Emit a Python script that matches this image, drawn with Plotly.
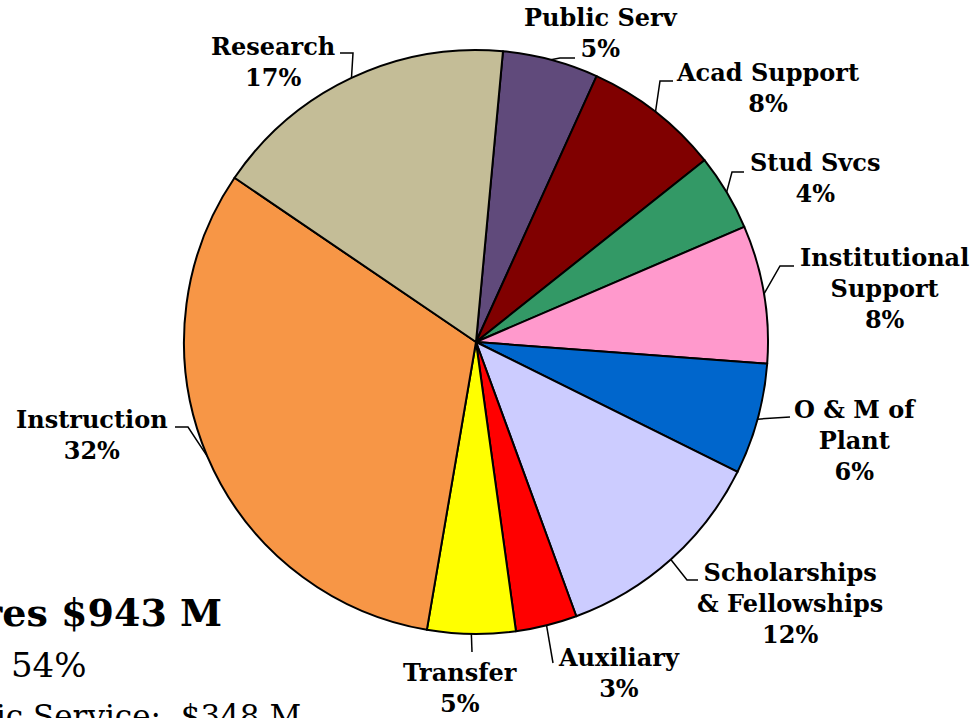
import math
import plotly.graph_objects as go

# ---------------- data ----------------
categories = ["Public Serv", "Acad Support", "Stud Svcs", "Institutional Support",
              "O & M of Plant", "Scholarships & Fellowships", "Auxiliary",
              "Transfer", "Instruction", "Research"]
label_lines = [["Public Serv"], ["Acad Support"], ["Stud Svcs"], ["Institutional", "Support"],
               ["O & M of", "Plant"], ["Scholarships", "& Fellowships"], ["Auxiliary"],
               ["Transfer"], ["Instruction"], ["Research"]]
values_musd = [50, 71, 40, 72, 58, 114, 32, 46, 300, 160]
total_text = "Total Expenditures $943 M"
share_text = "Instruction, Research & Public Service:  54%"
amount_text = "Instruction, Research & Public Service:  $348 M"

# ---------------- styles / layout ----------------
colors = ["#604A7B", "#800000", "#339966", "#FF99CC", "#0066CC",
          "#CCCCFF", "#FF0000", "#FFFF00", "#F79646", "#C4BD97"]
W, H = 976, 718
CX, CY, R = 476, 342, 292
ROTATION = 5.3
# label block centres (px) and leader text-end / elbow points (px)
label_pos = [(601, 32.5), (767, 88), (815, 178), (884, 288.5), (855, 440),
             (790, 603), (619, 672.5), (460, 687.5), (92, 434.5), (273, 62)]
leader_T = [(575, 58), (673, 81), (744, 172), (794, 266), (790, 417),
            (698, 580), (553, 663), (472, 652), (175, 427), (340, 53)]
leader_E = [(560, 58), (660, 81), (732, 172), (780, 266), (790, 417),
            (687, 580), (553, 663), (472, 652), (188, 427), (353, 53)]
LABEL_FONT = dict(family="DejaVu Serif", size=24, color="black")

fig = go.Figure()
fig.add_trace(go.Pie(
    labels=categories, values=values_musd, sort=False, direction="clockwise",
    rotation=ROTATION, textinfo="none", hoverinfo="label+percent",
    marker=dict(colors=colors, line=dict(color="black", width=2)),
    domain=dict(x=[(CX - R) / W, (CX + R) / W], y=[1 - (CY + R) / H, 1 - (CY - R) / H]),
    showlegend=False,
))

total = sum(values_musd)
cum = 0.0
lx, ly = [], []
annotations = []
for i, v in enumerate(values_musd):
    mid = math.radians(ROTATION + (cum + v / 2) / total * 360)
    cum += v
    px, py = CX + R * math.sin(mid), CY - R * math.cos(mid)
    lx += [px, leader_E[i][0], leader_T[i][0], None]
    ly += [py, leader_E[i][1], leader_T[i][1], None]
    pct = round(v / total * 100)
    txt = "<br>".join("<b>%s</b>" % s for s in label_lines[i]) + "<br><b>%d%%</b>" % pct
    annotations.append(dict(x=label_pos[i][0], y=label_pos[i][1], xref="x", yref="y",
                            text=txt, showarrow=False, xanchor="center", yanchor="middle",
                            align="center", font=LABEL_FONT))

fig.add_trace(go.Scatter(x=lx, y=ly, mode="lines", line=dict(color="black", width=1.5),
                         hoverinfo="skip", showlegend=False))

annotations += [
    dict(x=224, y=612, xref="x", yref="y", text="<b>%s</b>" % total_text, showarrow=False,
         xanchor="right", yanchor="middle", font=dict(family="DejaVu Serif", size=38, color="black")),
    dict(x=88, y=665, xref="x", yref="y", text=share_text, showarrow=False,
         xanchor="right", yanchor="middle", font=dict(family="DejaVu Serif", size=34, color="black")),
    dict(x=303, y=716, xref="x", yref="y", text=amount_text, showarrow=False,
         xanchor="right", yanchor="middle", font=dict(family="DejaVu Serif", size=31, color="black")),
]

fig.update_layout(
    width=W, height=H, margin=dict(l=0, r=0, t=0, b=0),
    paper_bgcolor="white", plot_bgcolor="white", showlegend=False,
    xaxis=dict(range=[0, W], visible=False, fixedrange=True),
    yaxis=dict(range=[H, 0], visible=False, fixedrange=True),
    annotations=annotations,
)

fig.write_html("out.html", config={"displayModeBar": False},
               post_script="document.body.style.margin='0';")
